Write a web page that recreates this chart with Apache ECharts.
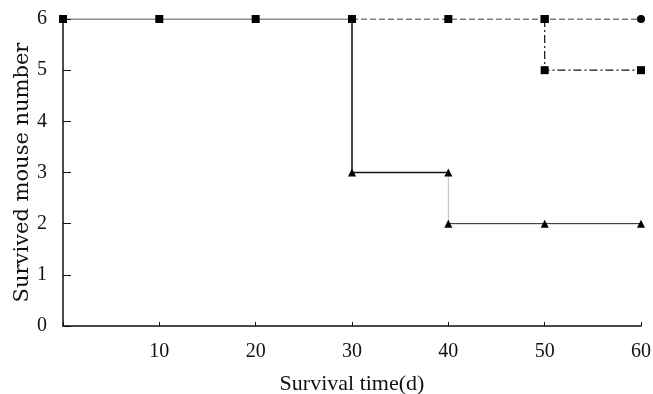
<!DOCTYPE html>
<html>
<head>
<meta charset="utf-8">
<script src="https://cdn.jsdelivr.net/npm/echarts@6/dist/echarts.min.js"></script>
<style>
  html, body { margin: 0; padding: 0; background: #fff; }
  #chart { width: 653px; height: 394px; }
</style>
</head>
<body>
<div id="chart"></div>
<script>
// Data
const xTicks = [0, 10, 20, 30, 40, 50, 60];
const yTicks = [0, 1, 2, 3, 4, 5, 6];

// group 1: solid step down from 6 to 3
const solidTop = [[0, 6], [10, 6], [20, 6], [30, 6]];
const solidDrop = [[30, 6], [30, 3], [40, 3]];
const dottedDrop = [[40, 3], [40, 2]];
const solidLow = [[40, 2], [50, 2], [60, 2]];
// group 2: dashed, all survive
const dashedTop = [[30, 6], [40, 6], [50, 6], [60, 6]];
const dashedSymbols = ['none', 'rect', 'rect', 'circle'];
// group 3: dash-dot, one death at day 50
const dashDot = [[50, 6], [50, 5], [60, 5]];

const font = '"Liberation Serif", "DejaVu Serif", serif';
const wideFont = '"DejaVu Serif", serif';
const ink = '#111';

const chart = echarts.init(document.getElementById('chart'), null, { renderer: 'canvas' });

function sym(data, symbols) {
  return data.map((d, i) => ({ value: d, symbol: symbols[i] }));
}

chart.setOption({
  animation: false,
  backgroundColor: '#fff',
  grid: { left: 63, right: 12, top: 19, bottom: 68, outerBoundsMode: 'none' },
  xAxis: {
    type: 'value',
    min: xTicks[0], max: xTicks[xTicks.length - 1], interval: 10,
    name: 'Survival time(d)',
    nameLocation: 'middle',
    nameGap: 47,
    nameMoveOverlap: false,
    nameTextStyle: { fontFamily: font, fontSize: 22, color: ink },
    axisLine: { lineStyle: { color: ink, width: 1.5 } },
    axisTick: { inside: true, length: 4, lineStyle: { color: ink } },
    axisLabel: {
      fontFamily: font, fontSize: 20, color: ink, margin: 16,
      formatter: v => (v === 0 ? '' : String(v))
    },
    splitLine: { show: false }
  },
  yAxis: {
    type: 'value',
    min: yTicks[0], max: yTicks[yTicks.length - 1], interval: 1,
    name: 'Survived mouse number',
    nameLocation: 'middle',
    nameGap: 30,
    nameMoveOverlap: false,
    nameTextStyle: { fontFamily: wideFont, fontSize: 21, color: ink },
    axisLine: { lineStyle: { color: ink, width: 1.5 } },
    axisTick: { inside: true, length: 8, lineStyle: { color: ink } },
    axisLabel: { fontFamily: font, fontSize: 20, color: ink, margin: 16 },
    splitLine: { show: false }
  },
  series: [
    {
      type: 'line', data: solidTop, symbol: 'rect', symbolSize: 8,
      lineStyle: { color: '#222', width: 1 }, itemStyle: { color: '#000' }
    },
    {
      type: 'line', data: sym(solidDrop, ['none', 'triangle', 'triangle']), symbolSize: 8,
      lineStyle: { color: '#111', width: 1.5 }, itemStyle: { color: '#000' }
    },
    {
      type: 'line', data: dottedDrop, symbol: 'none',
      lineStyle: { color: '#777', width: 1, type: 'dotted' }
    },
    {
      type: 'line', data: solidLow, symbol: 'triangle', symbolSize: 8,
      lineStyle: { color: '#222', width: 1 }, itemStyle: { color: '#000' }
    },
    {
      type: 'line', data: sym(dashedTop, dashedSymbols), symbolSize: 8,
      lineStyle: { color: '#000', width: 1.2, type: [6, 3] }, itemStyle: { color: '#000' }
    },
    {
      type: 'line', data: sym(dashDot, ['rect', 'rect', 'rect']), symbolSize: 8,
      lineStyle: { color: '#111', width: 1.2, type: [8, 3, 2, 3] }, itemStyle: { color: '#000' }
    }
  ]
});
</script>
</body>
</html>
